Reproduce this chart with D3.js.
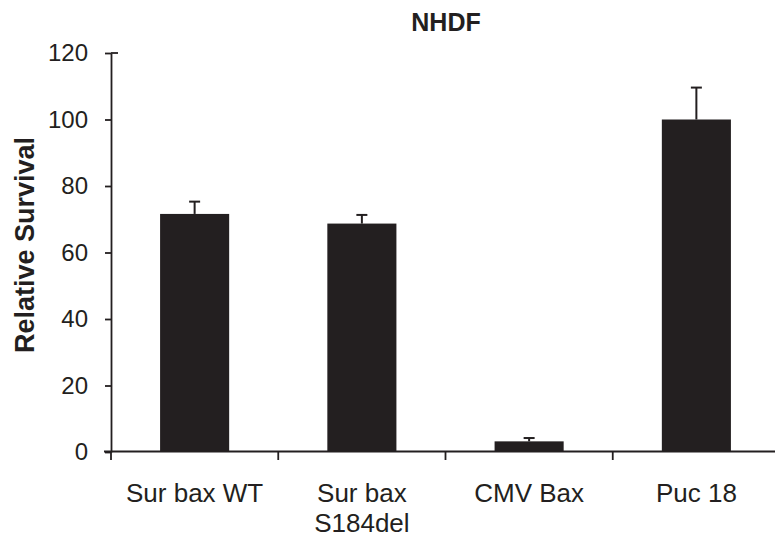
<!DOCTYPE html>
<html>
<head>
<meta charset="utf-8">
<script src="https://cdn.jsdelivr.net/npm/d3@7"></script>
<style>
    body { margin: 0; background: #fff; }
    text { font-family: "Liberation Sans", Arial, sans-serif; fill: #231f20; }
</style>
</head>
<body>
<div class="chart"></div>
<script>
/* data */
const categories = ['Sur bax WT', 'Sur bax|S184del', 'CMV Bax', 'Puc 18']
const survival = [71.6, 68.7, 3.2, 100]
const errors = [3.7, 2.6, 1.0, 9.6]
const yTicks = [0, 20, 40, 60, 80, 100, 120]

const width = 775
const height = 542
const ink = '#231f20'

const svg = d3.select('.chart')
    .append('svg')
    .attr('width', width)
    .attr('height', height)

const x = d3.scaleBand()
    .domain(categories)
    .range([111, 780])
    .paddingInner(0.587)
    .paddingOuter(0.2935)

const y = d3.scaleLinear()
    .domain([0, 120])
    .range([452, 53])

// title
svg.append('text')
    .attr('x', 446)
    .attr('y', 31)
    .attr('text-anchor', 'middle')
    .style('font-size', '25px')
    .style('font-weight', 'bold')
    .text('NHDF')

// y title
svg.append('text')
    .attr('transform', 'translate(34,245) rotate(-90)')
    .attr('text-anchor', 'middle')
    .style('font-size', '27px')
    .style('font-weight', 'bold')
    .text('Relative Survival')

// y axis
const yAxis = svg.append('g')
    .attr('transform', 'translate(111,0)')
    .call(d3.axisLeft(y).tickValues(yTicks).tickSize(6).tickSizeOuter(0).tickPadding(17))
yAxis.select('.domain').attr('stroke', ink).attr('stroke-width', 1.8)
yAxis.selectAll('.tick line').attr('stroke', ink).attr('stroke-width', 1.8)
yAxis.selectAll('.tick text')
    .style('font-size', '24px')
    .style('font-family', '"Liberation Sans", Arial, sans-serif')
    .attr('fill', ink)
// top tick crosses the axis
yAxis.append('line')
    .attr('x1', 0).attr('x2', 7)
    .attr('y1', y(120)).attr('y2', y(120))
    .attr('stroke', ink).attr('stroke-width', 1.8)

// bars
svg.selectAll('.bar')
    .data(categories)
    .enter()
    .append('rect')
    .attr('class', 'bar')
    .attr('x', d => x(d))
    .attr('y', (d, i) => y(survival[i]))
    .attr('width', x.bandwidth())
    .attr('height', (d, i) => y(0) - y(survival[i]))
    .style('fill', ink)

// error bars, upper half only
const err = svg.selectAll('.err')
    .data(categories)
    .enter()
    .append('g')
    .attr('class', 'err')
err.append('line')
    .attr('x1', d => x(d) + x.bandwidth() / 2)
    .attr('x2', d => x(d) + x.bandwidth() / 2)
    .attr('y1', (d, i) => y(survival[i]))
    .attr('y2', (d, i) => y(survival[i] + errors[i]))
    .attr('stroke', ink).attr('stroke-width', 2)
err.append('line')
    .attr('x1', d => x(d) + x.bandwidth() / 2 - 5.5)
    .attr('x2', d => x(d) + x.bandwidth() / 2 + 5.5)
    .attr('y1', (d, i) => y(survival[i] + errors[i]))
    .attr('y2', (d, i) => y(survival[i] + errors[i]))
    .attr('stroke', ink).attr('stroke-width', 2)

// x axis
svg.append('line')
    .attr('x1', 104).attr('x2', width)
    .attr('y1', 451.5).attr('y2', 451.5)
    .attr('stroke', ink).attr('stroke-width', 1.8)
svg.selectAll('.xtick')
    .data(categories)
    .enter()
    .append('line')
    .attr('class', 'xtick')
    .attr('x1', d => x(d) - x.step() * 0.2935)
    .attr('x2', d => x(d) - x.step() * 0.2935)
    .attr('y1', 451.5).attr('y2', 460)
    .attr('stroke', ink).attr('stroke-width', 1.8)

// category labels (| marks a line break)
const labels = svg.selectAll('.xlabel')
    .data(categories)
    .enter()
    .append('text')
    .attr('class', 'xlabel')
    .attr('text-anchor', 'middle')
    .attr('y', 502)
    .style('font-size', '26px')
labels.selectAll('tspan')
    .data(d => d.split('|').map(s => ({ s: s, c: d })))
    .enter()
    .append('tspan')
    .attr('x', d => x(d.c) + x.bandwidth() / 2)
    .attr('dy', (d, i) => i === 0 ? 0 : 30)
    .text(d => d.s)
</script>
</body>
</html>
